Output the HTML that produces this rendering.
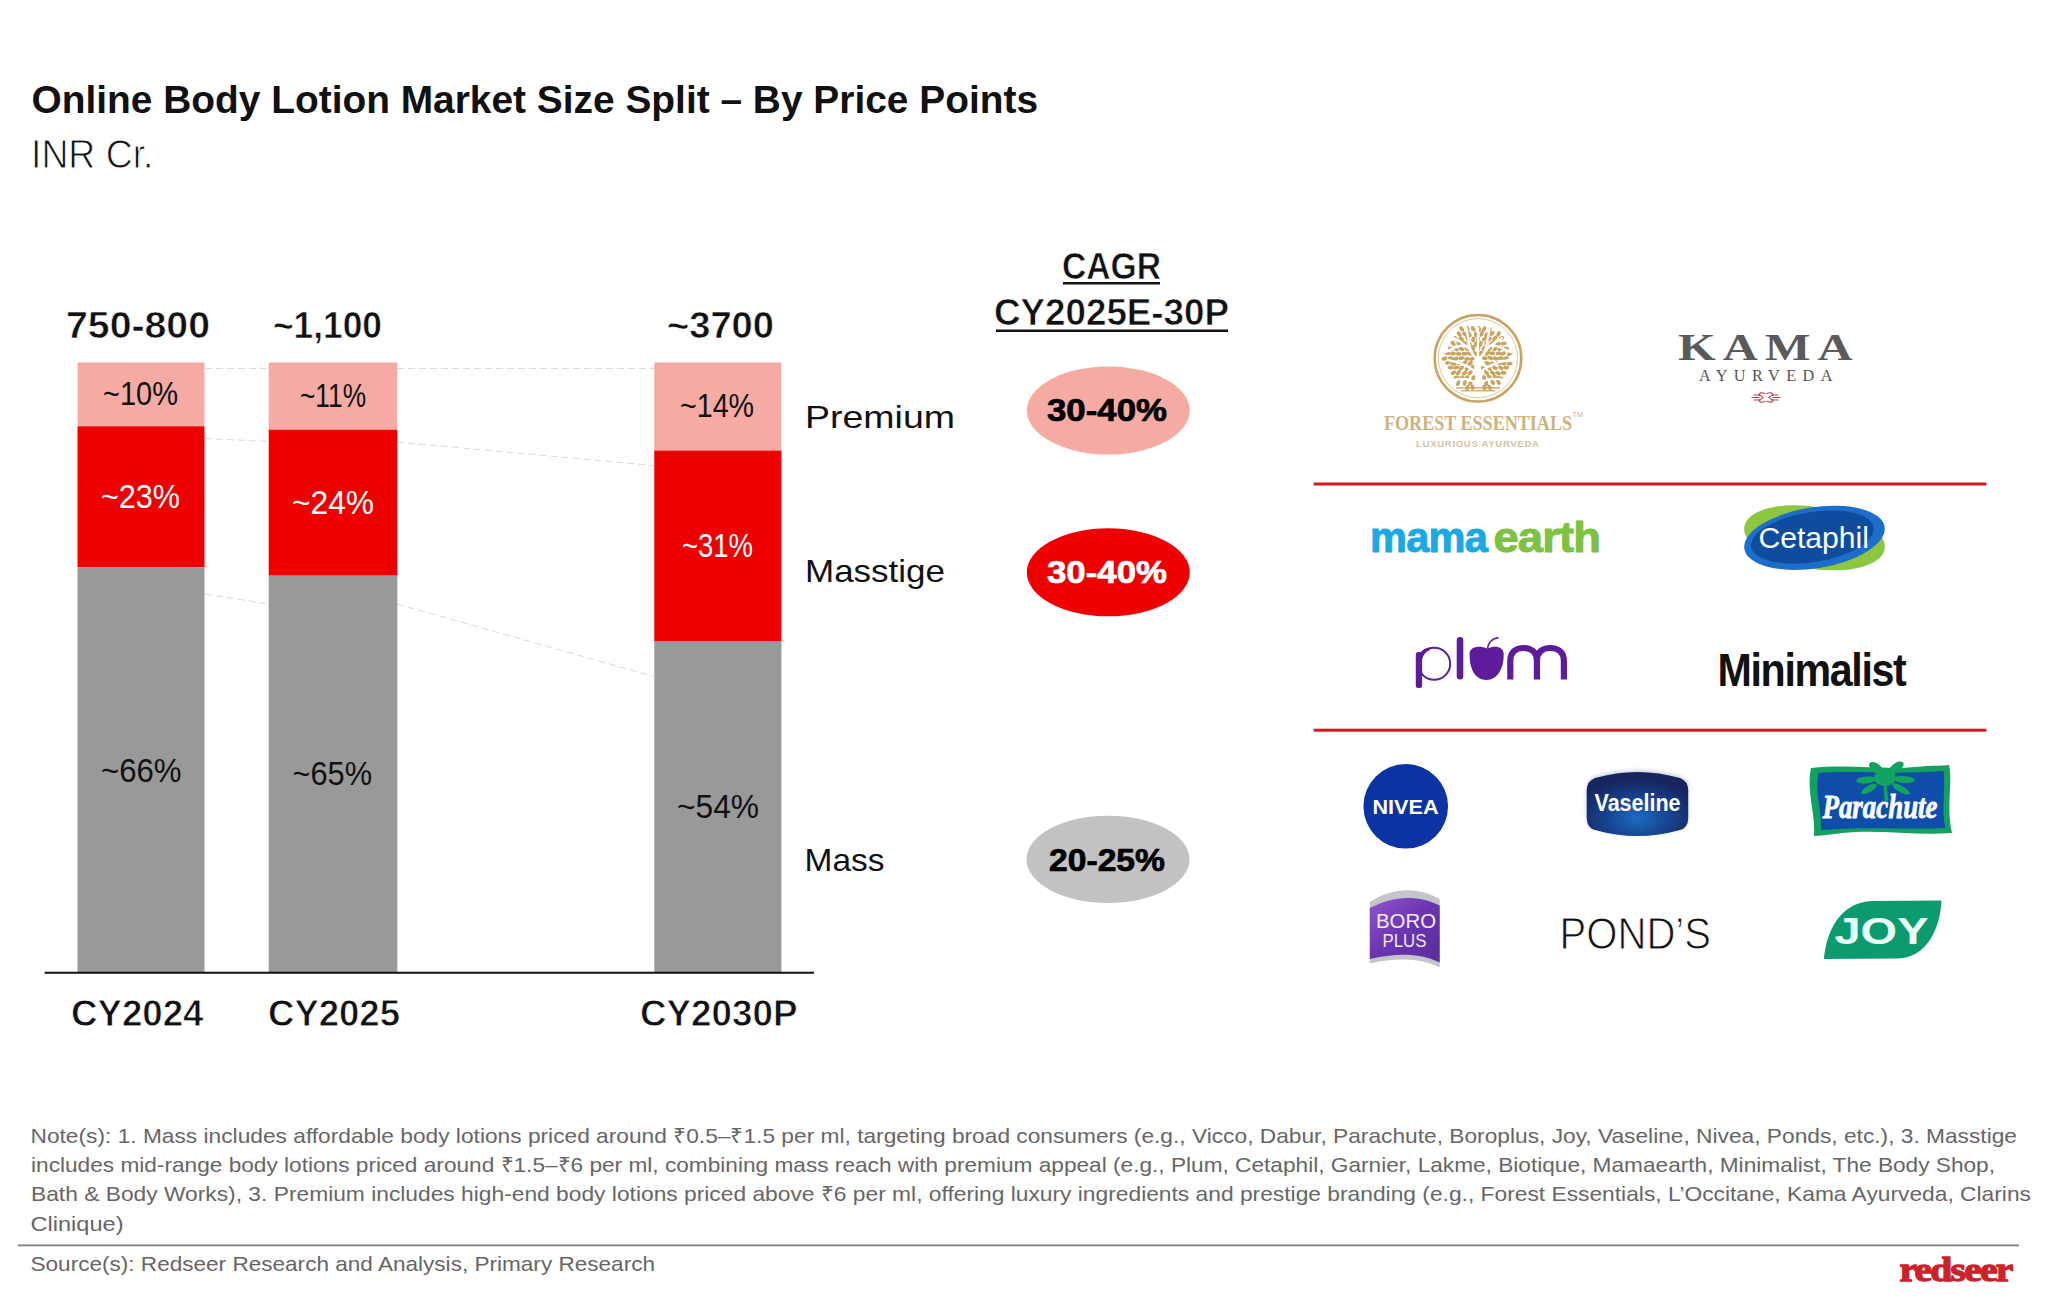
<!DOCTYPE html>
<html><head><meta charset="utf-8"><title>Online Body Lotion Market Size Split – By Price Points</title>
<style>
html,body{margin:0;padding:0;background:#fff;}
body{width:2048px;height:1311px;overflow:hidden;position:relative;}
svg{position:absolute;left:0;top:0;display:block;}
</style></head>
<body>
<svg width="2048" height="1311" viewBox="0 0 2048 1311">
<rect x="0" y="0" width="2048" height="1311" fill="#fff"/>
<!-- dashed connectors -->
<g stroke="#dadada" stroke-width="1" stroke-dasharray="7 4" fill="none">
<line x1="205" y1="368.5" x2="269" y2="368.5"/>
<line x1="397" y1="368.5" x2="654" y2="368.5"/>
<line x1="205" y1="438.5" x2="269" y2="441.5"/>
<line x1="397" y1="442" x2="654" y2="465.5"/>
<line x1="205" y1="594" x2="269" y2="604"/>
<line x1="397" y1="604" x2="654" y2="676.5"/>
</g>
<!-- bars -->
<rect x="77.5" y="362.5" width="127" height="64" fill="#F5ABA4"/>
<rect x="77.5" y="426.3" width="127" height="141" fill="#EE0000"/>
<rect x="77.5" y="567.3" width="127" height="405" fill="#999999"/>
<rect x="268.7" y="362.5" width="128.6" height="67.2" fill="#F5ABA4"/>
<rect x="268.7" y="429.7" width="128.6" height="146" fill="#EE0000"/>
<rect x="268.7" y="575.6" width="128.6" height="397" fill="#999999"/>
<rect x="654.3" y="362.5" width="127.1" height="88.2" fill="#F5ABA4"/>
<rect x="654.3" y="450.6" width="127.1" height="190.5" fill="#EE0000"/>
<rect x="654.3" y="641" width="127.1" height="331.5" fill="#999999"/>
<line x1="44.6" y1="972.8" x2="814" y2="972.8" stroke="#111" stroke-width="2"/>
<!-- CAGR underlines -->
<rect x="1063" y="282" width="97" height="2.5" fill="#111"/>
<rect x="996" y="329.5" width="232" height="2.5" fill="#111"/>
<!-- ellipses -->
<ellipse cx="1108.3" cy="410.5" rx="81.5" ry="44" fill="#F5ABA4"/>
<ellipse cx="1108.3" cy="572.3" rx="81.5" ry="44" fill="#EE0000"/>
<ellipse cx="1108" cy="859.4" rx="81.5" ry="43.6" fill="#C2C2C2"/>
<!-- right panel separators -->
<rect x="1313.7" y="482.5" width="672.7" height="3" fill="#D11A20"/>
<rect x="1313.7" y="728.7" width="672.7" height="3" fill="#D11A20"/>
<!-- footer separator -->
<rect x="18" y="1244.5" width="2001" height="1.8" fill="#808080"/>

<circle cx="1478.0" cy="358.2" r="43.3" fill="none" stroke="#C9A460" stroke-width="2.5"/>
<circle cx="1478.0" cy="358.2" r="39.6" fill="none" stroke="#D9C291" stroke-width="0.9"/>
<g fill="#C9A460"><ellipse cx="1461.7" cy="328.9" rx="3.0" ry="1.9" transform="rotate(-132 1461.7 328.9)"/><ellipse cx="1467.4" cy="328.6" rx="3.0" ry="1.9" transform="rotate(-105 1467.4 328.6)"/><ellipse cx="1473.2" cy="328.8" rx="3.0" ry="1.9" transform="rotate(-124 1473.2 328.8)"/><ellipse cx="1479.0" cy="329.0" rx="3.0" ry="1.9" transform="rotate(-102 1479.0 329.0)"/><ellipse cx="1484.0" cy="329.2" rx="3.0" ry="1.9" transform="rotate(-62 1484.0 329.2)"/><ellipse cx="1489.8" cy="329.5" rx="3.0" ry="1.9" transform="rotate(-86 1489.8 329.5)"/><ellipse cx="1459.1" cy="334.1" rx="3.0" ry="1.9" transform="rotate(-127 1459.1 334.1)"/><ellipse cx="1464.7" cy="334.1" rx="3.0" ry="1.9" transform="rotate(-141 1464.7 334.1)"/><ellipse cx="1469.4" cy="334.4" rx="3.0" ry="1.9" transform="rotate(-118 1469.4 334.4)"/><ellipse cx="1475.9" cy="334.4" rx="3.0" ry="1.9" transform="rotate(-97 1475.9 334.4)"/><ellipse cx="1481.7" cy="333.8" rx="3.0" ry="1.9" transform="rotate(-72 1481.7 333.8)"/><ellipse cx="1486.7" cy="334.5" rx="3.0" ry="1.9" transform="rotate(-55 1486.7 334.5)"/><ellipse cx="1491.9" cy="333.5" rx="3.0" ry="1.9" transform="rotate(-40 1491.9 333.5)"/><ellipse cx="1498.6" cy="333.9" rx="3.0" ry="1.9" transform="rotate(-65 1498.6 333.9)"/><ellipse cx="1455.8" cy="338.8" rx="3.0" ry="1.9" transform="rotate(-132 1455.8 338.8)"/><ellipse cx="1461.4" cy="338.9" rx="3.0" ry="1.9" transform="rotate(-136 1461.4 338.9)"/><ellipse cx="1467.7" cy="339.0" rx="3.0" ry="1.9" transform="rotate(-115 1467.7 339.0)"/><ellipse cx="1473.2" cy="339.4" rx="3.0" ry="1.9" transform="rotate(-84 1473.2 339.4)"/><ellipse cx="1478.0" cy="339.2" rx="3.0" ry="1.9" transform="rotate(-80 1478.0 339.2)"/><ellipse cx="1484.5" cy="338.9" rx="3.0" ry="1.9" transform="rotate(-50 1484.5 338.9)"/><ellipse cx="1489.3" cy="339.2" rx="3.0" ry="1.9" transform="rotate(-48 1489.3 339.2)"/><ellipse cx="1494.9" cy="338.3" rx="3.0" ry="1.9" transform="rotate(-45 1494.9 338.3)"/><ellipse cx="1501.4" cy="338.3" rx="3.0" ry="1.9" transform="rotate(-23 1501.4 338.3)"/><ellipse cx="1453.1" cy="343.3" rx="3.0" ry="1.9" transform="rotate(-135 1453.1 343.3)"/><ellipse cx="1459.1" cy="344.1" rx="3.0" ry="1.9" transform="rotate(-153 1459.1 344.1)"/><ellipse cx="1464.5" cy="343.1" rx="3.0" ry="1.9" transform="rotate(-156 1464.5 343.1)"/><ellipse cx="1469.8" cy="344.1" rx="3.0" ry="1.9" transform="rotate(-108 1469.8 344.1)"/><ellipse cx="1475.6" cy="344.3" rx="3.0" ry="1.9" transform="rotate(-75 1475.6 344.3)"/><ellipse cx="1480.7" cy="343.8" rx="3.0" ry="1.9" transform="rotate(-87 1480.7 343.8)"/><ellipse cx="1486.4" cy="343.6" rx="3.0" ry="1.9" transform="rotate(-82 1486.4 343.6)"/><ellipse cx="1492.0" cy="343.1" rx="3.0" ry="1.9" transform="rotate(-40 1492.0 343.1)"/><ellipse cx="1497.8" cy="344.2" rx="3.0" ry="1.9" transform="rotate(-18 1497.8 344.2)"/><ellipse cx="1503.5" cy="343.6" rx="3.0" ry="1.9" transform="rotate(-10 1503.5 343.6)"/><ellipse cx="1450.6" cy="348.7" rx="3.0" ry="1.9" transform="rotate(-160 1450.6 348.7)"/><ellipse cx="1456.1" cy="349.1" rx="3.0" ry="1.9" transform="rotate(-153 1456.1 349.1)"/><ellipse cx="1461.5" cy="348.8" rx="3.0" ry="1.9" transform="rotate(-149 1461.5 348.8)"/><ellipse cx="1467.0" cy="349.1" rx="3.0" ry="1.9" transform="rotate(-151 1467.0 349.1)"/><ellipse cx="1472.9" cy="348.0" rx="3.0" ry="1.9" transform="rotate(-117 1472.9 348.0)"/><ellipse cx="1478.5" cy="348.0" rx="3.0" ry="1.9" transform="rotate(-92 1478.5 348.0)"/><ellipse cx="1484.2" cy="348.0" rx="3.0" ry="1.9" transform="rotate(-52 1484.2 348.0)"/><ellipse cx="1489.6" cy="348.8" rx="3.0" ry="1.9" transform="rotate(-33 1489.6 348.8)"/><ellipse cx="1495.4" cy="348.8" rx="3.0" ry="1.9" transform="rotate(-37 1495.4 348.8)"/><ellipse cx="1500.3" cy="348.8" rx="3.0" ry="1.9" transform="rotate(-47 1500.3 348.8)"/><ellipse cx="1506.1" cy="348.5" rx="3.0" ry="1.9" transform="rotate(4 1506.1 348.5)"/><ellipse cx="1447.4" cy="353.3" rx="3.0" ry="1.9" transform="rotate(-166 1447.4 353.3)"/><ellipse cx="1453.0" cy="353.5" rx="3.0" ry="1.9" transform="rotate(-178 1453.0 353.5)"/><ellipse cx="1458.7" cy="353.8" rx="3.0" ry="1.9" transform="rotate(-176 1458.7 353.8)"/><ellipse cx="1464.5" cy="353.7" rx="3.0" ry="1.9" transform="rotate(-184 1464.5 353.7)"/><ellipse cx="1469.7" cy="353.8" rx="3.0" ry="1.9" transform="rotate(-159 1469.7 353.8)"/><ellipse cx="1475.2" cy="353.4" rx="3.0" ry="1.9" transform="rotate(-130 1475.2 353.4)"/><ellipse cx="1480.7" cy="353.2" rx="3.0" ry="1.9" transform="rotate(-46 1480.7 353.2)"/><ellipse cx="1487.2" cy="353.4" rx="3.0" ry="1.9" transform="rotate(-37 1487.2 353.4)"/><ellipse cx="1492.0" cy="353.2" rx="3.0" ry="1.9" transform="rotate(-1 1492.0 353.2)"/><ellipse cx="1498.5" cy="353.4" rx="3.0" ry="1.9" transform="rotate(-6 1498.5 353.4)"/><ellipse cx="1503.1" cy="353.5" rx="3.0" ry="1.9" transform="rotate(-24 1503.1 353.5)"/><ellipse cx="1509.6" cy="353.8" rx="3.0" ry="1.9" transform="rotate(-24 1509.6 353.8)"/><ellipse cx="1444.5" cy="358.7" rx="3.0" ry="1.9" transform="rotate(164 1444.5 358.7)"/><ellipse cx="1450.8" cy="358.1" rx="3.0" ry="1.9" transform="rotate(187 1450.8 358.1)"/><ellipse cx="1455.8" cy="358.7" rx="3.0" ry="1.9" transform="rotate(161 1455.8 358.7)"/><ellipse cx="1461.4" cy="358.2" rx="3.0" ry="1.9" transform="rotate(168 1461.4 358.2)"/><ellipse cx="1467.1" cy="358.8" rx="3.0" ry="1.9" transform="rotate(175 1467.1 358.8)"/><ellipse cx="1472.2" cy="358.8" rx="3.0" ry="1.9" transform="rotate(162 1472.2 358.8)"/><ellipse cx="1484.6" cy="358.2" rx="3.0" ry="1.9" transform="rotate(20 1484.6 358.2)"/><ellipse cx="1490.1" cy="358.0" rx="3.0" ry="1.9" transform="rotate(23 1490.1 358.0)"/><ellipse cx="1495.6" cy="358.5" rx="3.0" ry="1.9" transform="rotate(13 1495.6 358.5)"/><ellipse cx="1500.5" cy="358.1" rx="3.0" ry="1.9" transform="rotate(1 1500.5 358.1)"/><ellipse cx="1505.9" cy="358.4" rx="3.0" ry="1.9" transform="rotate(-13 1505.9 358.4)"/><ellipse cx="1448.0" cy="362.6" rx="3.0" ry="1.9" transform="rotate(160 1448.0 362.6)"/><ellipse cx="1453.4" cy="363.7" rx="3.0" ry="1.9" transform="rotate(189 1453.4 363.7)"/><ellipse cx="1459.3" cy="363.3" rx="3.0" ry="1.9" transform="rotate(185 1459.3 363.3)"/><ellipse cx="1464.7" cy="362.8" rx="3.0" ry="1.9" transform="rotate(136 1464.7 362.8)"/><ellipse cx="1470.2" cy="363.2" rx="3.0" ry="1.9" transform="rotate(138 1470.2 363.2)"/><ellipse cx="1487.3" cy="363.3" rx="3.0" ry="1.9" transform="rotate(25 1487.3 363.3)"/><ellipse cx="1492.1" cy="363.6" rx="3.0" ry="1.9" transform="rotate(11 1492.1 363.6)"/><ellipse cx="1498.3" cy="363.0" rx="3.0" ry="1.9" transform="rotate(13 1498.3 363.0)"/><ellipse cx="1503.6" cy="363.6" rx="3.0" ry="1.9" transform="rotate(-4 1503.6 363.6)"/><ellipse cx="1509.6" cy="363.7" rx="3.0" ry="1.9" transform="rotate(-7 1509.6 363.7)"/><ellipse cx="1450.8" cy="367.5" rx="3.0" ry="1.9" transform="rotate(176 1450.8 367.5)"/><ellipse cx="1456.4" cy="367.5" rx="3.0" ry="1.9" transform="rotate(162 1456.4 367.5)"/><ellipse cx="1461.3" cy="368.1" rx="3.0" ry="1.9" transform="rotate(138 1461.3 368.1)"/><ellipse cx="1467.2" cy="368.4" rx="3.0" ry="1.9" transform="rotate(134 1467.2 368.4)"/><ellipse cx="1472.3" cy="367.6" rx="3.0" ry="1.9" transform="rotate(93 1472.3 367.6)"/><ellipse cx="1483.5" cy="368.6" rx="3.0" ry="1.9" transform="rotate(40 1483.5 368.6)"/><ellipse cx="1489.1" cy="368.1" rx="3.0" ry="1.9" transform="rotate(58 1489.1 368.1)"/><ellipse cx="1495.0" cy="367.9" rx="3.0" ry="1.9" transform="rotate(21 1495.0 367.9)"/><ellipse cx="1500.9" cy="367.9" rx="3.0" ry="1.9" transform="rotate(31 1500.9 367.9)"/><ellipse cx="1506.2" cy="367.6" rx="3.0" ry="1.9" transform="rotate(4 1506.2 367.6)"/><ellipse cx="1453.5" cy="372.8" rx="3.0" ry="1.9" transform="rotate(152 1453.5 372.8)"/><ellipse cx="1458.4" cy="372.8" rx="3.0" ry="1.9" transform="rotate(122 1458.4 372.8)"/><ellipse cx="1464.7" cy="372.8" rx="3.0" ry="1.9" transform="rotate(138 1464.7 372.8)"/><ellipse cx="1470.1" cy="372.8" rx="3.0" ry="1.9" transform="rotate(134 1470.1 372.8)"/><ellipse cx="1486.8" cy="373.2" rx="3.0" ry="1.9" transform="rotate(53 1486.8 373.2)"/><ellipse cx="1492.6" cy="372.9" rx="3.0" ry="1.9" transform="rotate(42 1492.6 372.9)"/><ellipse cx="1498.0" cy="373.2" rx="3.0" ry="1.9" transform="rotate(24 1498.0 373.2)"/><ellipse cx="1503.5" cy="372.8" rx="3.0" ry="1.9" transform="rotate(8 1503.5 372.8)"/><ellipse cx="1456.5" cy="377.6" rx="3.0" ry="1.9" transform="rotate(157 1456.5 377.6)"/><ellipse cx="1461.9" cy="377.5" rx="3.0" ry="1.9" transform="rotate(150 1461.9 377.5)"/><ellipse cx="1466.7" cy="378.2" rx="3.0" ry="1.9" transform="rotate(117 1466.7 378.2)"/><ellipse cx="1473.3" cy="378.1" rx="3.0" ry="1.9" transform="rotate(113 1473.3 378.1)"/><ellipse cx="1484.3" cy="377.9" rx="3.0" ry="1.9" transform="rotate(81 1484.3 377.9)"/><ellipse cx="1489.7" cy="377.2" rx="3.0" ry="1.9" transform="rotate(40 1489.7 377.2)"/><ellipse cx="1495.5" cy="377.2" rx="3.0" ry="1.9" transform="rotate(31 1495.5 377.2)"/><ellipse cx="1500.3" cy="378.2" rx="3.0" ry="1.9" transform="rotate(20 1500.3 378.2)"/><ellipse cx="1458.2" cy="383.1" rx="3.0" ry="1.9" transform="rotate(112 1458.2 383.1)"/><ellipse cx="1464.8" cy="382.9" rx="3.0" ry="1.9" transform="rotate(100 1464.8 382.9)"/><ellipse cx="1470.5" cy="382.8" rx="3.0" ry="1.9" transform="rotate(125 1470.5 382.8)"/><ellipse cx="1486.2" cy="383.0" rx="3.0" ry="1.9" transform="rotate(85 1486.2 383.0)"/><ellipse cx="1492.7" cy="382.2" rx="3.0" ry="1.9" transform="rotate(60 1492.7 382.2)"/><ellipse cx="1498.5" cy="382.1" rx="3.0" ry="1.9" transform="rotate(63 1498.5 382.1)"/><ellipse cx="1467.3" cy="387.9" rx="3.0" ry="1.9" transform="rotate(101 1467.3 387.9)"/><ellipse cx="1472.4" cy="387.2" rx="3.0" ry="1.9" transform="rotate(87 1472.4 387.2)"/><ellipse cx="1484.3" cy="387.4" rx="3.0" ry="1.9" transform="rotate(84 1484.3 387.4)"/><ellipse cx="1489.5" cy="387.4" rx="3.0" ry="1.9" transform="rotate(62 1489.5 387.4)"/></g>
<g fill="none" stroke="#fff" stroke-linecap="round"><path d="M1478.0,394.2 L1478.0,362.2" stroke-width="5"/><path d="M1478.0,364.2 C1474.0,352.2 1466.0,344.2 1454.0,338.2" stroke-width="2.2"/><path d="M1478.0,364.2 C1482.0,352.2 1490.0,344.2 1502.0,338.2" stroke-width="2.2"/><path d="M1478.0,362.2 L1478.0,328.2" stroke-width="2.2"/><path d="M1478.0,374.2 C1470.0,366.2 1460.0,362.2 1448.0,360.2" stroke-width="2.2"/><path d="M1478.0,374.2 C1486.0,366.2 1496.0,362.2 1508.0,360.2" stroke-width="2.2"/><path d="M1472.0,354.2 C1468.0,342.2 1468.0,334.2 1466.0,326.2" stroke-width="2.2"/><path d="M1484.0,354.2 C1488.0,342.2 1488.0,334.2 1490.0,326.2" stroke-width="2.2"/><path d="M1464.0,345.2 C1456.0,346.2 1450.0,350.2 1445.0,352.2" stroke-width="2.2"/><path d="M1492.0,345.2 C1500.0,346.2 1506.0,350.2 1511.0,352.2" stroke-width="2.2"/><path d="M1478.0,384.2 C1470.0,378.2 1460.0,378.2 1452.0,380.2" stroke-width="2.2"/><path d="M1478.0,384.2 C1486.0,378.2 1496.0,378.2 1504.0,380.2" stroke-width="2.2"/></g>
<rect x="1456.0" y="387.2" width="44" height="1.4" fill="#C9A460"/>
<rect x="1461.0" y="390.2" width="34" height="1.2" fill="#C9A460"/>
<g fill="none" stroke="#B5454A" stroke-width="1.2" stroke-linecap="round"><path d="M1765,393.5 q-5,-2 -6,1.5 q3,1 4,2.5 q-1,1.5 -4,2.5 q1,3.5 6,1.5"/><path d="M1767,393.5 q5,-2 6,1.5 q-3,1 -4,2.5 q1,1.5 4,2.5 q-1,3.5 -6,1.5"/><path d="M1752,397.5 h7 M1754,395.0 h6 M1754,400.0 h6 M1773,397.5 h7 M1772,395.0 h6 M1772,400.0 h6"/></g>
<ellipse cx="1814.5" cy="537.8" rx="71" ry="31" fill="#8DC63F" transform="rotate(9 1814.5 537.8)"/>
<ellipse cx="1814.5" cy="537.8" rx="71" ry="30.5" fill="#1D6DCB" transform="rotate(-9 1814.5 537.8)"/>
<ellipse cx="1812.5" cy="536.8" rx="62" ry="25" fill="#0E4C9E" transform="rotate(-9 1814.5 537.8)"/>
<g fill="#5E1B9B"><rect x="1415.8" y="652" width="6.3" height="36" rx="2.5"/><ellipse cx="1434.2" cy="663.8" rx="16" ry="16" fill="none" stroke="#5E1B9B" stroke-width="2"/><path d="M1416,668 C1416,655 1422,648 1430,647.5 L1430,650 C1424,652 1421,658 1421.5,668 Z"/><rect x="1456.7" y="637" width="6.6" height="42.5" rx="3.2"/><path d="M1469.6,653 C1470.5,646.5 1479,645 1487.5,648.5 C1495,645 1503.5,646.5 1503.7,654 C1504,669 1497,680 1486.5,680 C1475.5,680 1469,669 1469.6,653 Z"/></g>
<path d="M1487.5,648.5 C1488.5,642 1492,638.5 1498.5,637.6" fill="none" stroke="#5E1B9B" stroke-width="1.6"/>
<path d="M1510.3,679.5 V661 C1510.3,652 1516,648 1523.6,648 C1531,648 1536.9,652 1536.9,661 V679.5 M1536.9,661 C1536.9,652 1542.5,648 1550.2,648 C1558,648 1563.9,652 1563.9,661 V679.5" fill="none" stroke="#5E1B9B" stroke-width="6.2"/>
<circle cx="1405.75" cy="806.3" r="42.3" fill="#0B33A3"/>
<defs><radialGradient id="vasg" cx="0.5" cy="0.72" r="0.62"><stop offset="0" stop-color="#1C6CC0"/><stop offset="0.5" stop-color="#174390"/><stop offset="1" stop-color="#16255E"/></radialGradient><filter id="blur2" x="-20%" y="-20%" width="140%" height="140%"><feGaussianBlur stdDeviation="2.2"/></filter></defs>
<path d="M1595,778 Q1637.5,766 1680,778 Q1688,781 1688.2,790 L1688.2,818 Q1688,828 1680,830 Q1637.5,842 1595,830 Q1587,828 1586.7,818 L1586.7,790 Q1587,781 1595,778 Z" fill="#9aa0b5" filter="url(#blur2)" opacity="0.55" transform="translate(0,-1.5) scale(1)"/>
<path d="M1595,778 Q1637.5,766 1680,778 Q1688,781 1688.2,790 L1688.2,818 Q1688,828 1680,830 Q1637.5,842 1595,830 Q1587,828 1586.7,818 L1586.7,790 Q1587,781 1595,778 Z" fill="url(#vasg)"/>
<path d="M1811,768 C1850,764 1885,770 1915,767 C1933,765 1943,766 1949,765 C1953,782 1946,806 1952,833 C1915,836 1880,829 1842,833 C1828,835 1818,836 1814,836 C1816,815 1806,790 1811,768 Z" fill="#12A15E"/>
<path d="M1818.5,773 C1855,770 1888,775 1943.5,771 C1946,790 1941,806 1945.3,828 C1905,830 1870,826 1821,830 C1822,810 1814,790 1818.5,773 Z" fill="#0E4DAA"/>
<g fill="#14A35E"><path d="M1883.5,785 L1886.5,785 L1888.5,801 L1884.5,801 Z"/><ellipse cx="1885" cy="778" rx="11" ry="8"/><ellipse cx="1866" cy="780" rx="10" ry="3.6" transform="rotate(-4 1866 780)"/><ellipse cx="1904" cy="779.5" rx="11" ry="3.6" transform="rotate(4 1904 779.5)"/><ellipse cx="1876" cy="768" rx="8" ry="4.5" transform="rotate(38 1876 768)"/><ellipse cx="1896" cy="768" rx="9" ry="4.5" transform="rotate(-38 1896 768)"/><ellipse cx="1869" cy="789" rx="9" ry="3.2" transform="rotate(-30 1869 789)"/><ellipse cx="1901" cy="789" rx="10" ry="3.2" transform="rotate(30 1901 789)"/></g>
<defs><linearGradient id="borog" x1="0" y1="0" x2="1" y2="1"><stop offset="0" stop-color="#8E56CC"/><stop offset="0.5" stop-color="#6A34B0"/><stop offset="1" stop-color="#5A2E9C"/></linearGradient></defs>
<path d="M1369.8,902 C1390,889 1415,885 1439.7,899 L1439.7,967.5 C1420,957.5 1395,958 1369.8,963.5 Z" fill="#C4C4CA"/>
<path d="M1369.8,908 C1390,897.5 1415,893 1439.7,905.5 L1439.7,962.5 C1420,952.5 1395,953 1369.8,959 Z" fill="url(#borog)"/>
<path d="M1823.9,959 C1826,932 1840,902 1872,901 L1941.5,900.6 C1940,930 1926,958 1898,958.4 Z" fill="#0E9A6F"/>
<text x="31.50" y="113.00" font-size="38.96" font-weight="bold" fill="#111" style="font-family:'Liberation Sans',sans-serif" textLength="1006.50" lengthAdjust="spacingAndGlyphs">Online Body Lotion Market Size Split – By Price Points</text>
<text x="31.00" y="167.70" font-size="39.91" font-weight="normal" fill="#111" style="font-family:'Liberation Sans',sans-serif" stroke="#fff" stroke-width="0.9" stroke-linejoin="round" textLength="122.50" lengthAdjust="spacingAndGlyphs">INR Cr.</text>
<text x="66.00" y="338.30" font-size="36.40" font-weight="bold" fill="#111" style="font-family:'Liberation Sans',sans-serif" stroke="#fff" stroke-width="0.6" stroke-linejoin="round" textLength="144.00" lengthAdjust="spacingAndGlyphs">750-800</text>
<text x="273.00" y="338.30" font-size="36.40" font-weight="bold" fill="#111" style="font-family:'Liberation Sans',sans-serif" stroke="#fff" stroke-width="0.6" stroke-linejoin="round" textLength="109.00" lengthAdjust="spacingAndGlyphs">~1,100</text>
<text x="667.00" y="338.30" font-size="36.40" font-weight="bold" fill="#111" style="font-family:'Liberation Sans',sans-serif" stroke="#fff" stroke-width="0.6" stroke-linejoin="round" textLength="107.00" lengthAdjust="spacingAndGlyphs">~3700</text>
<text x="103.00" y="405.00" font-size="33.00" font-weight="normal" fill="#111" style="font-family:'Liberation Sans',sans-serif" textLength="75.00" lengthAdjust="spacingAndGlyphs">~10%</text>
<text x="300.00" y="407.00" font-size="33.00" font-weight="normal" fill="#111" style="font-family:'Liberation Sans',sans-serif" textLength="66.00" lengthAdjust="spacingAndGlyphs">~11%</text>
<text x="680.00" y="416.70" font-size="33.00" font-weight="normal" fill="#111" style="font-family:'Liberation Sans',sans-serif" textLength="74.00" lengthAdjust="spacingAndGlyphs">~14%</text>
<text x="101.00" y="508.20" font-size="33.00" font-weight="normal" fill="#fff" style="font-family:'Liberation Sans',sans-serif" textLength="79.00" lengthAdjust="spacingAndGlyphs">~23%</text>
<text x="292.00" y="514.00" font-size="33.00" font-weight="normal" fill="#fff" style="font-family:'Liberation Sans',sans-serif" textLength="82.00" lengthAdjust="spacingAndGlyphs">~24%</text>
<text x="682.00" y="557.00" font-size="33.00" font-weight="normal" fill="#fff" style="font-family:'Liberation Sans',sans-serif" textLength="71.00" lengthAdjust="spacingAndGlyphs">~31%</text>
<text x="101.00" y="781.80" font-size="33.00" font-weight="normal" fill="#111" style="font-family:'Liberation Sans',sans-serif" textLength="80.50" lengthAdjust="spacingAndGlyphs">~66%</text>
<text x="292.50" y="785.30" font-size="33.00" font-weight="normal" fill="#111" style="font-family:'Liberation Sans',sans-serif" textLength="79.50" lengthAdjust="spacingAndGlyphs">~65%</text>
<text x="677.00" y="818.00" font-size="33.00" font-weight="normal" fill="#111" style="font-family:'Liberation Sans',sans-serif" textLength="82.00" lengthAdjust="spacingAndGlyphs">~54%</text>
<text x="71.00" y="1026.30" font-size="37.00" font-weight="bold" fill="#111" style="font-family:'Liberation Sans',sans-serif" stroke="#fff" stroke-width="0.8" stroke-linejoin="round" textLength="132.50" lengthAdjust="spacingAndGlyphs">CY2024</text>
<text x="268.00" y="1026.30" font-size="37.00" font-weight="bold" fill="#111" style="font-family:'Liberation Sans',sans-serif" stroke="#fff" stroke-width="0.8" stroke-linejoin="round" textLength="132.00" lengthAdjust="spacingAndGlyphs">CY2025</text>
<text x="640.00" y="1026.00" font-size="37.00" font-weight="bold" fill="#111" style="font-family:'Liberation Sans',sans-serif" stroke="#fff" stroke-width="0.8" stroke-linejoin="round" textLength="157.50" lengthAdjust="spacingAndGlyphs">CY2030P</text>
<text x="805.00" y="427.60" font-size="31.50" font-weight="normal" fill="#111" style="font-family:'Liberation Sans',sans-serif" textLength="150.00" lengthAdjust="spacingAndGlyphs">Premium</text>
<text x="805.00" y="581.80" font-size="31.50" font-weight="normal" fill="#111" style="font-family:'Liberation Sans',sans-serif" textLength="140.00" lengthAdjust="spacingAndGlyphs">Masstige</text>
<text x="804.50" y="871.00" font-size="31.50" font-weight="normal" fill="#111" style="font-family:'Liberation Sans',sans-serif" textLength="80.00" lengthAdjust="spacingAndGlyphs">Mass</text>
<text x="1062.00" y="278.50" font-size="36.00" font-weight="bold" fill="#111" style="font-family:'Liberation Sans',sans-serif" stroke="#fff" stroke-width="0.6" stroke-linejoin="round" textLength="99.00" lengthAdjust="spacingAndGlyphs">CAGR</text>
<text x="994.00" y="325.40" font-size="36.00" font-weight="bold" fill="#111" style="font-family:'Liberation Sans',sans-serif" stroke="#fff" stroke-width="0.6" stroke-linejoin="round" textLength="235.00" lengthAdjust="spacingAndGlyphs">CY2025E-30P</text>
<text x="1047.00" y="420.70" font-size="30.60" font-weight="bold" fill="#000" style="font-family:'Liberation Sans',sans-serif" stroke="#000" stroke-width="0.7" stroke-linejoin="round" textLength="120.00" lengthAdjust="spacingAndGlyphs">30-40%</text>
<text x="1047.00" y="583.30" font-size="30.60" font-weight="bold" fill="#fff" style="font-family:'Liberation Sans',sans-serif" stroke="#fff" stroke-width="0.7" stroke-linejoin="round" textLength="120.00" lengthAdjust="spacingAndGlyphs">30-40%</text>
<text x="1049.00" y="870.50" font-size="30.60" font-weight="bold" fill="#000" style="font-family:'Liberation Sans',sans-serif" stroke="#000" stroke-width="0.7" stroke-linejoin="round" textLength="116.00" lengthAdjust="spacingAndGlyphs">20-25%</text>
<text x="30.50" y="1142.50" font-size="21.00" font-weight="normal" fill="#666" style="font-family:'Liberation Sans',sans-serif" textLength="1986.50" lengthAdjust="spacingAndGlyphs">Note(s): 1. Mass includes affordable body lotions priced around ₹0.5–₹1.5 per ml, targeting broad consumers (e.g., Vicco, Dabur, Parachute, Boroplus, Joy, Vaseline, Nivea, Ponds, etc.), 3. Masstige</text>
<text x="31.00" y="1172.00" font-size="21.00" font-weight="normal" fill="#666" style="font-family:'Liberation Sans',sans-serif" textLength="1964.00" lengthAdjust="spacingAndGlyphs">includes mid-range body lotions priced around ₹1.5–₹6 per ml, combining mass reach with premium appeal (e.g., Plum, Cetaphil, Garnier, Lakme, Biotique, Mamaearth, Minimalist, The Body Shop,</text>
<text x="31.00" y="1201.00" font-size="21.00" font-weight="normal" fill="#666" style="font-family:'Liberation Sans',sans-serif" textLength="2000.00" lengthAdjust="spacingAndGlyphs">Bath &amp; Body Works), 3. Premium includes high-end body lotions priced above ₹6 per ml, offering luxury ingredients and prestige branding (e.g., Forest Essentials, L’Occitane, Kama Ayurveda, Clarins</text>
<text x="30.50" y="1230.70" font-size="21.00" font-weight="normal" fill="#666" style="font-family:'Liberation Sans',sans-serif" textLength="93.00" lengthAdjust="spacingAndGlyphs">Clinique)</text>
<text x="30.50" y="1271.30" font-size="21.00" font-weight="normal" fill="#666" style="font-family:'Liberation Sans',sans-serif" textLength="624.50" lengthAdjust="spacingAndGlyphs">Source(s): Redseer Research and Analysis, Primary Research</text>
<text x="1899.50" y="1281.10" font-size="33.53" font-weight="bold" fill="#CC2229" style="font-family:'Liberation Serif',serif;letter-spacing:-1.5px" stroke="#CC2229" stroke-width="1.3" stroke-linejoin="round" textLength="112.00" lengthAdjust="spacingAndGlyphs">redseer</text>
<text x="1384.00" y="430.00" font-size="20.25" font-weight="bold" fill="#CDB27E" style="font-family:'Liberation Serif',serif" textLength="188.00" lengthAdjust="spacingAndGlyphs">FOREST ESSENTIALS</text>
<text x="1572.50" y="417.00" font-size="7.77" font-weight="normal" fill="#C9AD78" style="font-family:'Liberation Sans',sans-serif" textLength="10.50" lengthAdjust="spacingAndGlyphs">TM</text>
<text x="1416.00" y="447.20" font-size="9.60" font-weight="bold" fill="#D2C4A0" style="font-family:'Liberation Sans',sans-serif" textLength="123.00" lengthAdjust="spacing">LUXURIOUS AYURVEDA</text>
<text x="1678.00" y="359.80" font-size="38.18" font-weight="bold" fill="#5A5A5A" style="font-family:'Liberation Serif',serif;letter-spacing:5.5px" textLength="181.50" lengthAdjust="spacingAndGlyphs">KAMA</text>
<text x="1699.00" y="381.10" font-size="16.28" font-weight="normal" fill="#555" style="font-family:'Liberation Serif',serif" textLength="133.50" lengthAdjust="spacing">AYURVEDA</text>
<text x="1370.00" y="552.00" font-size="42.00" font-weight="bold" fill="#1CA9E1" style="font-family:'Liberation Sans',sans-serif;letter-spacing:-0.8px" stroke="#1CA9E1" stroke-width="1.0" stroke-linejoin="round" textLength="117.00" lengthAdjust="spacingAndGlyphs">mama</text>
<text x="1493.50" y="552.00" font-size="42.00" font-weight="bold" fill="#7DC242" style="font-family:'Liberation Sans',sans-serif;letter-spacing:-0.8px" stroke="#7DC242" stroke-width="1.0" stroke-linejoin="round" textLength="106.50" lengthAdjust="spacingAndGlyphs">earth</text>
<text x="1758.50" y="548.10" font-size="29.41" font-weight="normal" fill="#fff" style="font-family:'Liberation Sans',sans-serif" textLength="110.50" lengthAdjust="spacingAndGlyphs">Cetaphil</text>
<text x="1717.50" y="685.60" font-size="46.06" font-weight="bold" fill="#111" style="font-family:'Liberation Sans',sans-serif;letter-spacing:-1.5px" textLength="188.00" lengthAdjust="spacingAndGlyphs">Minimalist</text>
<text x="1372.50" y="814.10" font-size="21.03" font-weight="bold" fill="#fff" style="font-family:'Liberation Sans',sans-serif" textLength="66.00" lengthAdjust="spacingAndGlyphs">NIVEA</text>
<text x="1594.50" y="810.90" font-size="23.61" font-weight="bold" fill="#fff" style="font-family:'Liberation Sans',sans-serif" textLength="86.00" lengthAdjust="spacingAndGlyphs">Vaseline</text>
<text x="1822.50" y="817.50" font-size="32.76" font-weight="bold" fill="#fff" style="font-family:'Liberation Serif',serif;font-style:italic" stroke="#fff" stroke-width="0.8" stroke-linejoin="round" textLength="115.00" lengthAdjust="spacingAndGlyphs">Parachute</text>
<text x="1376.00" y="928.20" font-size="20.45" font-weight="normal" fill="#F3EAFF" style="font-family:'Liberation Sans',sans-serif" textLength="60.00" lengthAdjust="spacingAndGlyphs">BORO</text>
<text x="1382.50" y="946.70" font-size="17.64" font-weight="normal" fill="#F3EAFF" style="font-family:'Liberation Sans',sans-serif" textLength="44.00" lengthAdjust="spacingAndGlyphs">PLUS</text>
<text x="1559.50" y="948.60" font-size="44.78" font-weight="normal" fill="#111" style="font-family:'Liberation Sans',sans-serif" stroke="#fff" stroke-width="1.0" stroke-linejoin="round" textLength="151.50" lengthAdjust="spacingAndGlyphs">POND’S</text>
<text x="1834.50" y="943.70" font-size="37.83" font-weight="bold" fill="#E8FFF6" style="font-family:'Liberation Sans',sans-serif" textLength="94.00" lengthAdjust="spacingAndGlyphs">JOY</text>
</svg>
</body></html>
